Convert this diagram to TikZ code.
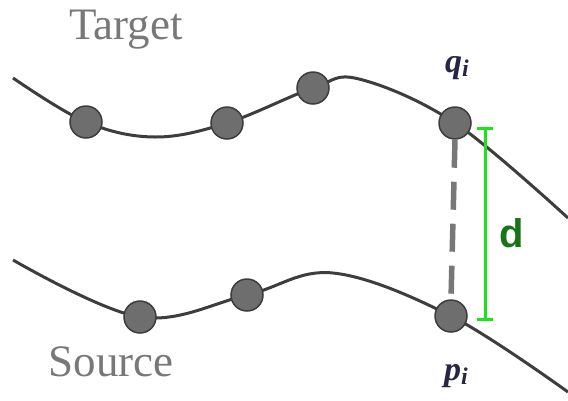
\documentclass[tikz,border=0pt]{standalone}
\usepackage{fontspec}
\setmainfont{Liberation Serif}
\newfontfamily\dfont{Liberation Sans}
\usepackage{tikz}
\usetikzlibrary{arrows.meta}
\definecolor{mycurve}{rgb}{0.24,0.24,0.24}
\definecolor{mydot}{rgb}{0.43,0.43,0.43}
\definecolor{mytext}{rgb}{0.47,0.47,0.47}
\definecolor{mygreen}{rgb}{0.1,0.9,0.1}
\definecolor{mydgreen}{rgb}{0.1,0.45,0.1}
\definecolor{mylabel}{rgb}{0.15,0.15,0.25}

\begin{document}
\begin{tikzpicture}[x=1pt,y=-1pt,
  samplept/.style={circle,fill=mydot,draw=mycurve,line width=1.5pt,minimum size=32pt,inner sep=0pt},
  curvename/.style={text=mytext,font=\fontsize{45}{50}\selectfont},
  ptname/.style={text=mylabel,font=\fontsize{34}{38}\selectfont\bfseries\itshape}]
  \useasboundingbox (0,0) rectangle (568,400);
  \draw[mycurve,line width=3pt] plot[smooth,tension=0.6] coordinates
    {(13,78) (86,122) (155,137) (227,123) (313,88) (359,79) (455,123) (568,218)};
  \draw[mycurve,line width=3pt] plot[smooth,tension=0.6] coordinates
    {(13,260) (140,317) (247,295) (333,273) (451,316) (568,392)};
  \node[samplept] (t1) at (86,122) {};
  \node[samplept] (t2) at (227,123) {};
  \node[samplept] (t3) at (313,88) {};
  \node[samplept] (q) at (455,123) {};
  \node[samplept] (s1) at (140,317) {};
  \node[samplept] (s2) at (247,295) {};
  \node[samplept] (p) at (451,316) {};
  \node[curvename] (target) at (126,30) {Target};
  \node[curvename] (source) at (111,362) {Source};
  \node[ptname] (qlabel) at (457,68) {q\raisebox{-0.25ex}{\fontsize{24}{26}\selectfont i}};
  \node[ptname] (plabel) at (456,376) {p\raisebox{-0.25ex}{\fontsize{24}{26}\selectfont i}};
  \draw[mytext,line width=5.5pt,dash pattern=on 28pt off 14pt] (q.south) -- (p.north);
  \coordinate (dtop) at (485,127);
  \coordinate (dbot) at (485,321);
  \draw[mygreen,line width=3pt,{Bar[width=16pt]}-{Bar[width=16pt]}] (dtop) -- (dbot);
  \node[text=mydgreen,font=\dfont\bfseries\fontsize{40}{44}\selectfont] (dlabel) at (512,233) {d};
\end{tikzpicture}
\end{document}
